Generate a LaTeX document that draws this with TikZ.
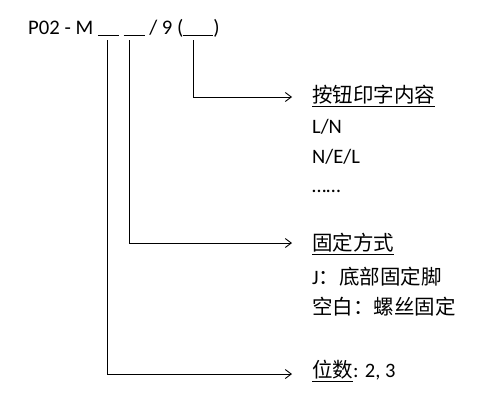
\documentclass[tikz,border=0pt]{standalone}
\usepackage{fontspec}
\setmainfont{Carlito}
\newfontfamily\cjk{Noto Sans CJK SC}
\usetikzlibrary{arrows.meta}
\newcommand{\bodyfont}{\fontsize{20.5}{24}\selectfont}
\newcommand{\zhtxt}[1]{{\cjk\fontsize{20.5}{24}\selectfont #1}}
\newcommand{\undl}[1]{\setbox0\hbox{#1}\rlap{\usebox0}\rule[-4.5pt]{\wd0}{1pt}}
\newcommand{\blank}[1]{\rule[-1.5pt]{#1}{1pt}}
\tikzset{
 entry/.style={anchor=base west, inner sep=0pt, font=\bodyfont},
 lead/.style={black, line width=0.9pt, ->, >={Straight Barb[length=6pt,width=9pt]}}
}

\begin{document}
\begin{tikzpicture}[x=1pt, y=-1pt]
\useasboundingbox (0,0) rectangle (484,402);
\node[entry, font=\fontsize{20.7}{24}\selectfont] (code) at (28,34) {P02 - M \blank{21pt} \blank{21pt} / 9 (\blank{30pt})};
\foreach \n/\x/\y in {key/193/97, mount/129/243, size/107/374} {
 \coordinate (\n-top) at (\x,40);
 \coordinate (\n-end) at (292,\y);
 \draw[lead] (\n-top) |- (\n-end);
}
\node[entry] (key) at (312,102) {\undl{\zhtxt{按钮印字内容}}};
\node[entry] (key-a) at (312,133) {L/N};
\node[entry] (key-b) at (312,163) {N/E/L};
\node[entry] (key-c) at (312,192) {……};
\node[entry] (mount) at (312,250) {\undl{\zhtxt{固定方式}}};
\node[entry] (mount-a) at (312,284) {J\zhtxt{：底部固定脚}};
\node[entry] (mount-b) at (312,314) {\zhtxt{空白：螺丝固定}};
\node[entry] (size) at (312,377) {\undl{\zhtxt{位数}}: 2, 3};
\end{tikzpicture}
\end{document}
